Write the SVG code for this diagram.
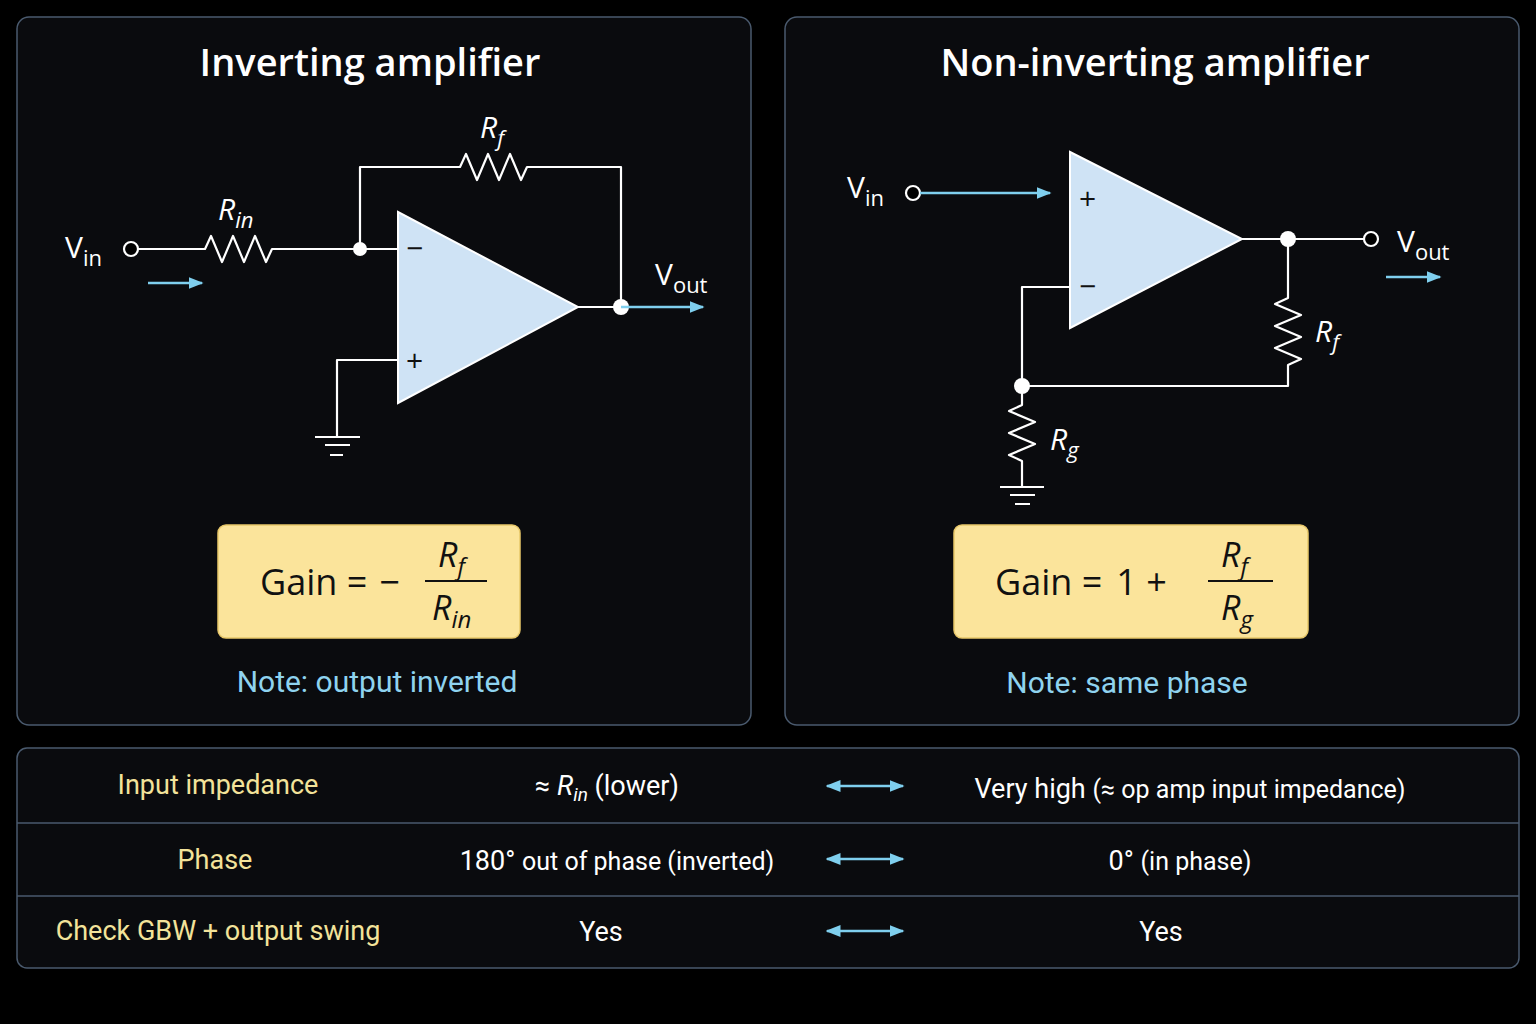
<svg xmlns="http://www.w3.org/2000/svg" width="1536" height="1024" viewBox="0 0 1536 1024">
<defs>
<style>
.panel{fill:#0a0b0e;stroke:#4a5a6e;stroke-width:1.5}
.w{fill:none;stroke:#fff;stroke-width:2.2;stroke-linejoin:round}
.oa{fill:#cfe3f5;stroke:#fff;stroke-width:2}
.t{font-family:"Open Sans","Liberation Sans",sans-serif;fill:#fff}
.r{font-family:Roboto,"Liberation Sans",sans-serif}
.it{font-style:italic}
.title{font-size:38px;font-weight:600;text-anchor:middle}
.note{font-size:30px;fill:#8fd3ef;text-anchor:middle}
.box{fill:#fbe49b;stroke:#e8c86a;stroke-width:1.5}
.blue{stroke:#7fcfee;stroke-width:2.5;fill:none}
.row{font-size:27px;text-anchor:middle}
.y{fill:#f3e39a}
.dot{fill:#fff}
</style>
<marker id="ah" viewBox="0 0 10 10" refX="9" refY="5" markerWidth="6" markerHeight="6" orient="auto-start-reverse"><path d="M0,1 L10,5 L0,9 z" fill="#7fcfee"/></marker>
</defs>
<rect width="1536" height="1024" fill="#000"/>
<g id="left-panel">
<rect class="panel" x="17" y="17" width="734" height="708" rx="12"/>
<text class="t title" x="370" y="76">Inverting amplifier</text>
</g>
<g id="right-panel">
<rect class="panel" x="785" y="17" width="734" height="708" rx="12"/>
<text class="t title" x="1155" y="76">Non-inverting amplifier</text>
</g>
<g id="inv-circuit">
<path class="w" d="M137,249 H205 l6,-13 l11,26 l11,-26 l11,26 l11,-26 l11,26 l6,-13 H398"/>
<path class="w" d="M360,249 V167 H460 l6,-13 l11,26 l11,-26 l11,26 l11,-26 l11,26 l6,-13 H621 V307"/>
<path class="w" d="M578,307 H621"/>
<path class="w" d="M398,360 H337 V437 M315,437 H360 M325,445 H350 M330,455 H343"/>
<polygon class="oa" points="398,212 398,403 578,307"/>
<circle cx="131" cy="249" r="7" fill="#000" stroke="#fff" stroke-width="2.2"/>
<circle class="dot" cx="360" cy="249" r="7"/>
<circle class="dot" cx="621" cy="307" r="8"/>
<text class="t" x="406" y="259" font-size="30" style="fill:#111">−</text>
<text class="t" x="406" y="371" font-size="30" style="fill:#111">+</text>
<line class="blue" x1="621" y1="307" x2="703" y2="307" marker-end="url(#ah)"/>
<line class="blue" x1="148" y1="283" x2="202" y2="283" marker-end="url(#ah)"/>
<text class="t" x="65" y="258" font-size="30">V<tspan font-size="22" dy="8">in</tspan></text>
<text class="t" x="655" y="285" font-size="30">V<tspan font-size="22" dy="8">out</tspan></text>
<text class="t it" x="480" y="138" font-size="30">R<tspan font-size="22" dy="8">f</tspan></text>
<text class="t it" x="218" y="220" font-size="30">R<tspan font-size="22" dy="8">in</tspan></text>
</g>
<g id="inv-gain">
<rect class="box" x="218" y="525" width="302" height="113" rx="8"/>
<text class="t" x="260" y="595" font-size="36" style="fill:#111">Gain =<tspan dx="12">−</tspan></text>
<text class="t it" x="438" y="567" font-size="34" style="fill:#111">R<tspan font-size="24" dy="8">f</tspan></text>
<line x1="425" y1="581" x2="487" y2="581" stroke="#111" stroke-width="2"/>
<text class="t it" x="432" y="620" font-size="34" style="fill:#111">R<tspan font-size="24" dy="8">in</tspan></text>
<text class="t r note" x="377" y="692">Note: output inverted</text>
</g>
<g id="noninv-circuit">
<path class="w" d="M1242,239 H1365"/>
<path class="w" d="M1288,239 V298 l-13,6 l26,11 l-26,11 l26,11 l-26,11 l26,11 l-13,6 V386 H1022"/>
<path class="w" d="M1070,287 H1022 V405 l-13,6 l26,11 l-26,11 l26,11 l-26,11 l13,6 V487 M1000,487 H1044 M1010,495 H1035 M1015,504 H1030"/>
<polygon class="oa" points="1070,152 1070,328 1242,239"/>
<circle cx="913" cy="193" r="7" fill="#000" stroke="#fff" stroke-width="2.2"/>
<circle cx="1371" cy="239" r="7" fill="#000" stroke="#fff" stroke-width="2.2"/>
<circle class="dot" cx="1288" cy="239" r="8"/>
<circle class="dot" cx="1022" cy="386" r="8"/>
<text class="t" x="1079" y="209" font-size="30" style="fill:#111">+</text>
<text class="t" x="1079" y="297" font-size="30" style="fill:#111">−</text>
<line class="blue" x1="920" y1="193" x2="1050" y2="193" marker-end="url(#ah)"/>
<line class="blue" x1="1386" y1="277" x2="1440" y2="277" marker-end="url(#ah)"/>
<text class="t" x="847" y="198" font-size="30">V<tspan font-size="22" dy="8">in</tspan></text>
<text class="t" x="1397" y="252" font-size="30">V<tspan font-size="22" dy="8">out</tspan></text>
<text class="t it" x="1315" y="342" font-size="30">R<tspan font-size="22" dy="8">f</tspan></text>
<text class="t it" x="1050" y="450" font-size="30">R<tspan font-size="22" dy="8">g</tspan></text>
</g>
<g id="noninv-gain">
<rect class="box" x="954" y="525" width="354" height="113" rx="8"/>
<text class="t" x="995" y="595" font-size="36" style="fill:#111">Gain =<tspan dx="14">1 +</tspan></text>
<text class="t it" x="1221" y="567" font-size="34" style="fill:#111">R<tspan font-size="24" dy="8">f</tspan></text>
<line x1="1208" y1="581" x2="1273" y2="581" stroke="#111" stroke-width="2"/>
<text class="t it" x="1221" y="620" font-size="34" style="fill:#111">R<tspan font-size="24" dy="8">g</tspan></text>
<text class="t r note" x="1127" y="693">Note: same phase</text>
</g>
<g id="table">
<rect class="panel" x="17" y="748" width="1502" height="220" rx="10"/>
<line x1="17" y1="823" x2="1519" y2="823" stroke="#4a5a6e" stroke-width="1.5"/>
<line x1="17" y1="896" x2="1519" y2="896" stroke="#4a5a6e" stroke-width="1.5"/>
<text class="t r row y" x="218" y="794">Input impedance</text>
<text class="t r row" x="607" y="795">≈ <tspan class="it">R</tspan><tspan class="it" font-size="19" dy="6">in</tspan><tspan dy="-6">  (lower)</tspan></text>
<text class="t r row" x="1190" y="798">Very high <tspan font-size="25">(≈ op amp input impedance)</tspan></text>
<text class="t r row y" x="215" y="869">Phase</text>
<text class="t r row" x="617" y="870">180° <tspan font-size="25">out of phase (inverted)</tspan></text>
<text class="t r row" x="1180" y="870">0°  <tspan font-size="25">(in phase)</tspan></text>
<text class="t r row y" x="218" y="940">Check GBW + output swing</text>
<text class="t r row" x="601" y="941">Yes</text>
<text class="t r row" x="1161" y="941">Yes</text>
</g>
<g id="connectors">
<line class="blue" x1="827" y1="786" x2="903" y2="786" marker-start="url(#ah)" marker-end="url(#ah)"/>
<line class="blue" x1="827" y1="859" x2="903" y2="859" marker-start="url(#ah)" marker-end="url(#ah)"/>
<line class="blue" x1="827" y1="931" x2="903" y2="931" marker-start="url(#ah)" marker-end="url(#ah)"/>
</g>
</svg>
